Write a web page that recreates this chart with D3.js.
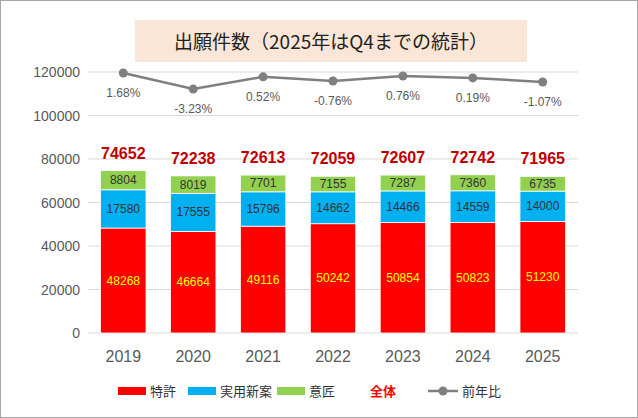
<!DOCTYPE html>
<html><head><meta charset="utf-8">
<script src="https://cdn.jsdelivr.net/npm/d3@7"></script>
<style>body{margin:0;background:#fff;font-family:"Noto Sans CJK JP","Noto Sans",sans-serif;}</style>
</head><body><div id="chart"></div>
<script>
const years = ["2019","2020","2021","2022","2023","2024","2025"];
const patent = [48268,46664,49116,50242,50854,50823,51230];
const utility = [17580,17555,15796,14662,14466,14559,14000];
const design = [8804,8019,7701,7155,7287,7360,6735];
const total = [74652,72238,72613,72059,72607,72742,71965];
const yoy = [1.68,-3.23,0.52,-0.76,0.76,0.19,-1.07];
const yTicks = [0,20000,40000,60000,80000,100000,120000];

const width = 638, height = 418;
const svg = d3.select("#chart").append("svg").attr("width", width).attr("height", height);
svg.append("rect").attr("x",0.5).attr("y",0.5).attr("width",width-1).attr("height",height-1)
    .attr("fill","#fff").attr("stroke","#a6a6a6");

const x = d3.scaleBand().domain(years).range([88, 578]).paddingInner(0.35).paddingOuter(0.18);
const y = d3.scaleLinear().domain([0, 120000]).range([333, 72]);
const y2 = d3.scaleLinear().domain([-78, 2]).range([333, 72]);

// title
svg.append("rect").attr("x",135).attr("y",20).attr("width",392).attr("height",42).attr("fill","#fbe5d6");
svg.append("text").attr("x",331).attr("y",49).attr("text-anchor","middle")
    .attr("font-size",19).attr("fill","#222").text("出願件数（2025年はQ4までの統計）");

// grid + axis
svg.append("g").selectAll("line").data(yTicks).join("line")
    .attr("x1",88).attr("x2",578).attr("y1",d=>y(d)).attr("y2",d=>y(d))
    .attr("stroke","#d9d9d9");
svg.append("g").selectAll("text").data(yTicks).join("text")
    .attr("x",80).attr("y",d=>y(d)+5).attr("text-anchor","end")
    .attr("font-size",14).attr("fill","#595959").attr("font-family","Liberation Sans, Arial").text(d=>d);

const series = [
    {name:"特許", vals:patent, color:"#ff0000", text:"#ffff00"},
    {name:"実用新案", vals:utility, color:"#00b0f0", text:"#333"},
    {name:"意匠", vals:design, color:"#92d050", text:"#333"}
];
const bars = svg.append("g");
years.forEach((yr,i) => {
    let base = 0;
    series.forEach(s => {
        const v = s.vals[i];
        bars.append("rect").attr("x",x(yr)).attr("width",x.bandwidth())
            .attr("y",y(base+v)).attr("height",y(base)-y(base+v))
            .attr("fill",s.color).attr("stroke","#fff").attr("stroke-width",0.8);
        bars.append("text").attr("x",x(yr)+x.bandwidth()/2).attr("y",(y(base)+y(base+v))/2+4)
            .attr("text-anchor","middle").attr("font-size",12).attr("fill",s.text)
            .attr("font-family","Liberation Sans, Arial").text(v);
        base += v;
    });
    svg.append("text").attr("x",x(yr)+x.bandwidth()/2).attr("y",y(total[i])-12)
        .attr("text-anchor","middle").attr("font-size",16).attr("font-weight","bold")
        .attr("fill","#c00000").attr("font-family","Liberation Sans, Arial").text(total[i]);
    svg.append("text").attr("x",x(yr)+x.bandwidth()/2).attr("y",362)
        .attr("text-anchor","middle").attr("font-size",16).attr("fill","#595959")
        .attr("font-family","Liberation Sans, Arial").text(yr);
});

// yoy line
const cx = d => x(d)+x.bandwidth()/2;
svg.append("path").datum(years.map((d,i)=>[cx(d), y2(yoy[i])]))
    .attr("d", d3.line()).attr("fill","none").attr("stroke","#7f7f7f").attr("stroke-width",2.5);
svg.append("g").selectAll("circle").data(years).join("circle")
    .attr("cx",cx).attr("cy",(d,i)=>y2(yoy[i])).attr("r",4.5).attr("fill","#7f7f7f");
svg.append("g").selectAll("text").data(years).join("text")
    .attr("x",cx).attr("y",(d,i)=>y2(yoy[i])+24).attr("text-anchor","middle")
    .attr("font-size",12).attr("fill","#595959").attr("font-family","Liberation Sans, Arial")
    .text((d,i)=>yoy[i].toFixed(2)+"%");

// legend
const ly = 396;
const lg = svg.append("g").attr("font-size",13);
[["特許",118],["実用新案",188],["意匠",277]].forEach(([n,lx],k)=>{
    lg.append("rect").attr("x",lx).attr("y",ly-9).attr("width",28).attr("height",8).attr("fill",series[k].color);
    lg.append("text").attr("x",lx+32).attr("y",ly).attr("fill","#333").text(n);
});
lg.append("text").attr("x",370).attr("y",ly).attr("fill","#ff0000").attr("font-weight","bold").text("全体");
lg.append("line").attr("x1",428).attr("x2",458).attr("y1",ly-5).attr("y2",ly-5).attr("stroke","#7f7f7f").attr("stroke-width",2.5);
lg.append("circle").attr("cx",443).attr("cy",ly-5).attr("r",4.5).attr("fill","#7f7f7f");
lg.append("text").attr("x",462).attr("y",ly).attr("fill","#333").text("前年比");
</script></body></html>
